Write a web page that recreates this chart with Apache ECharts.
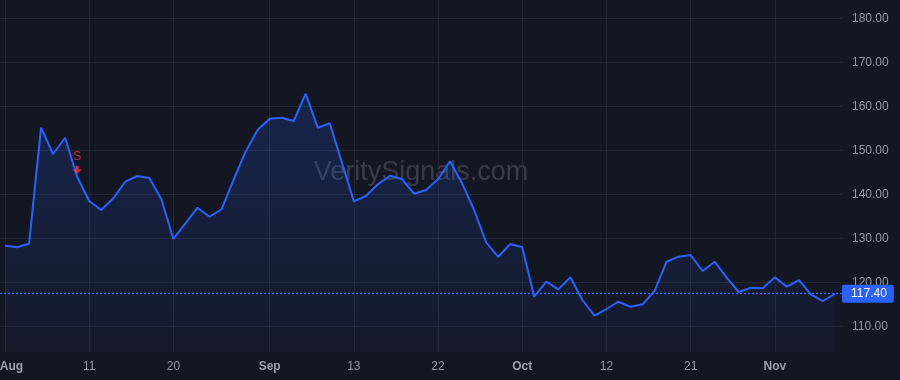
<!DOCTYPE html>
<html><head><meta charset="utf-8">
<script src="https://cdn.jsdelivr.net/npm/echarts@6/dist/echarts.min.js"></script>
<style>html,body{margin:0;padding:0;background:#131722;}#c{width:900px;height:380px;}</style>
</head><body><div id="c"></div>
<script>
const dates = ['08-01','08-03','08-04','08-05','08-06','08-07','08-08','08-11','08-12','08-13',
  '08-14','08-15','08-18','08-19','08-20','08-21','08-22','08-25','08-26','08-27',
  '08-28','08-29','09-01','09-02','09-03','09-04','09-05','09-08','09-10','09-13',
  '09-14','09-15','09-16','09-17','09-18','09-19','09-22','09-23','09-24','09-25',
  '09-26','09-29','09-30','10-01','10-02','10-03','10-06','10-07','10-08','10-09',
  '10-12','10-13','10-14','10-15','10-16','10-17','10-20','10-21','10-22','10-23',
  '10-24','10-27','10-28','10-30','11-01','11-03','11-04','11-05','11-06','11-07'];
const prices = [128.32,127.95,128.77,155.14,149.16,152.86,144.0,138.48,136.43,139.09,
  142.86,144.16,143.7,138.86,129.84,133.41,136.95,134.9,136.6,143.25,
  149.7,154.6,157.18,157.4,156.66,162.86,155.14,156.14,147.3,138.41,
  139.61,142.27,144.23,143.48,140.14,140.98,143.41,147.5,142.5,136.43,
  129.1,125.8,128.7,127.95,116.73,120.14,118.4,121.14,115.98,112.41,
  113.93,115.59,114.45,115.0,118.02,124.68,125.82,126.2,122.57,124.68,
  121.05,117.8,118.77,118.64,121.14,119.0,120.52,117.27,115.75,117.4];
const xTickIdx = [0,7,14,22,29,36,43,50,57,64];
const yTicks = [110,120,130,140,150,160,170,180];
const lastPrice = 117.40;
const sellIdx = 6;
const sellLabel = 'S';
const watermark = 'VeritySignals.com';
const monthNames = {'08':'Aug','09':'Sep','10':'Oct','11':'Nov'};

const chart = echarts.init(document.getElementById('c'), null, {renderer:'canvas'});
const FONT = '"Liberation Sans", Arial, sans-serif';
const seriesData = prices.map((v,i)=>[i,v]);

function xLabel(v){
  const i = Math.round(v);
  const d = dates[i];
  if(!d) return '';
  const [m, day] = d.split('-');
  if(day === '01') return (i === 0 ? '{f|' : '{m|') + monthNames[m] + '}';
  return String(parseInt(day,10));
}

const option = {
  backgroundColor:'#131722',
  animation:false,
  textStyle:{fontFamily:FONT},
  graphic:[{
    type:'text', z:0, silent:true,
    style:{text:watermark, x:421, y:173, align:'center', verticalAlign:'middle',
      fontSize:27, fontFamily:FONT, fill:'#393d4a'}
  }],
  grid:{left:0,right:58,top:0,bottom:28, containLabel:false, outerBoundsMode:'none'},
  xAxis:{
    type:'value', min:-0.4157, max:69.584,
    axisLine:{show:false},
    axisTick:{show:false, customValues:xTickIdx},
    axisLabel:{customValues:xTickIdx, formatter:xLabel, color:'#9598a1', fontSize:12, margin:9,
      rich:{
        m:{fontWeight:'bold', color:'#9da0a8', fontSize:12, fontFamily:FONT},
        f:{fontWeight:'bold', color:'#9da0a8', fontSize:12, fontFamily:FONT, padding:[0,0,0,13]}
      }},
    splitLine:{show:true, lineStyle:{color:'#232733', width:1}}
  },
  yAxis:{
    type:'value', position:'right', min:104.16, max:184.16,
    axisLine:{show:false},
    axisTick:{show:false, customValues:yTicks},
    axisLabel:{customValues:yTicks, formatter:(v)=>v.toFixed(2), color:'#9598a1', fontSize:12, margin:10},
    splitLine:{show:true, lineStyle:{color:'#232733', width:1}}
  },
  series:[{
    type:'line', data:seriesData, symbol:'none', z:3,
    lineStyle:{color:'#2962ff', width:2},
    areaStyle:{origin:'start', color:new echarts.graphic.LinearGradient(0,0,0,1,[
      {offset:0,color:'rgba(41,98,255,0.28)'},{offset:1,color:'rgba(41,98,255,0.05)'}])},
    markLine:{symbol:'none', silent:true, animation:false,
      data:[{yAxis:lastPrice}],
      lineStyle:{color:'#2f6bff', width:1.4, type:[2,2], opacity:1},
      label:{show:true, position:'end', formatter:lastPrice.toFixed(2), color:'#ffffff',
        backgroundColor:'#2962ff', padding:[3,7,3,9], lineHeight:12, borderRadius:2, fontSize:12, distance:0}}
  },{
    type:'scatter', z:5, silent:true,
    data:[[sellIdx, prices[sellIdx]]],
    symbol:'path://M3,0 L6,0 L6,4 L9,4 L4.5,8.5 L0,4 L3,4 Z',
    symbolSize:[9,8], symbolOffset:[0,-7],
    itemStyle:{color:'#f7394b'},
    label:{show:true, position:'top', formatter:sellLabel, color:'#f23645', fontSize:12, distance:3}
  }]
};
chart.setOption(option);
</script>
</body></html>
